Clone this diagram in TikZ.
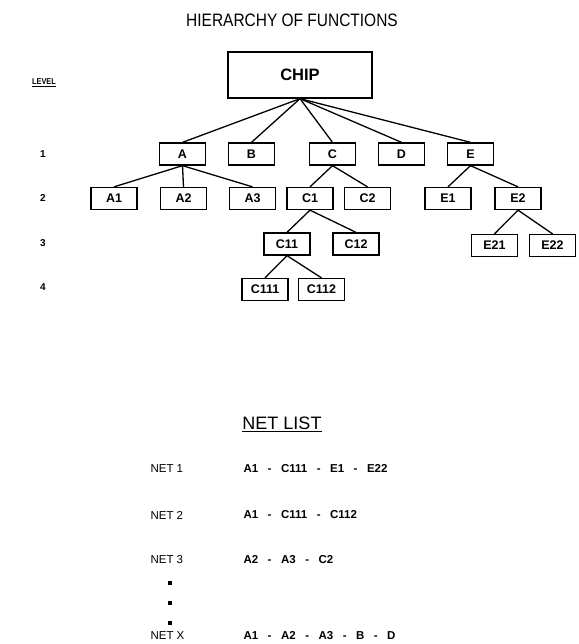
\documentclass[tikz,border=0pt]{standalone}
\usepackage{fontspec}
\setmainfont{Liberation Sans}
\newfontfamily\narrowsans[FakeStretch=0.86]{Liberation Sans}
\newcommand{\sep}{\hspace{9.5pt}-\hspace{9.5pt}}
\begin{document}
\begin{tikzpicture}[x=1pt,y=-1pt,
  box/.style={draw,line width=1.3pt,minimum width=46pt,minimum height=22pt,inner sep=0pt,font=\fontsize{12.5}{13}\selectfont\bfseries},
  link/.style={line width=1.3pt},
  lvl/.style={font=\fontsize{10}{11}\selectfont\bfseries},
  netl/.style={anchor=west,font=\fontsize{11.5}{12}\selectfont},
  netc/.style={anchor=west,font=\fontsize{11.5}{12}\selectfont\bfseries},
  dotm/.style={fill,minimum size=3.5pt,inner sep=0pt}]
\useasboundingbox (0,0) rectangle (578,644);
\node[font=\fontsize{18}{19}\selectfont\narrowsans] (title) at (292,20) {HIERARCHY OF FUNCTIONS};
\node[draw,line width=1.3pt,minimum width=144pt,minimum height=46pt,inner sep=0pt,font=\fontsize{16.5}{17}\selectfont\bfseries] (chip) at (300,75) {CHIP};
\node[font=\fontsize{8.5}{9}\selectfont\narrowsans\bfseries] (level) at (44,83) {\underline{LEVEL}};
\node[lvl] (l1) at (43,154) {1};
\node[lvl] (l2) at (43,198.5) {2};
\node[lvl] (l3) at (43,243) {3};
\node[lvl] (l4) at (43,287) {4};
% level 1
\node[box] (A) at (182.5,154) {A};
\node[box] (B) at (251.5,154) {B};
\node[box] (C) at (332.5,154) {C};
\node[box] (D) at (401.5,154) {D};
\node[box] (E) at (470.5,154) {E};
% level 2
\node[box] (A1) at (114,198.5) {A1};
\node[box] (A2) at (183.5,198.5) {A2};
\node[box] (A3) at (252.5,198.5) {A3};
\node[box] (C1) at (310,198.5) {C1};
\node[box] (C2) at (367.5,198.5) {C2};
\node[box] (E1) at (448,198.5) {E1};
\node[box] (E2) at (518,198.5) {E2};
% level 3
\node[box] (C11) at (287,244) {C11};
\node[box] (C12) at (356,244) {C12};
\node[box] (E21) at (494.5,245.5) {E21};
\node[box] (E22) at (552.5,245.5) {E22};
% level 4
\node[box] (C111) at (265,289.5) {C111};
\node[box] (C112) at (321.5,289.5) {C112};
% connectors
\foreach \c in {A,B,C,D,E} \draw[link] (chip.south) -- (\c.north);
\foreach \c in {A1,A2,A3} \draw[link] (A.south) -- (\c.north);
\foreach \c in {C1,C2} \draw[link] (C.south) -- (\c.north);
\foreach \c in {E1,E2} \draw[link] (E.south) -- (\c.north);
\foreach \c in {C11,C12} \draw[link] (C1.south) -- (\c.north);
\foreach \c in {E21,E22} \draw[link] (E2.south) -- (\c.north);
\foreach \c in {C111,C112} \draw[link] (C11.south) -- (\c.north);
% net list
\node[font=\fontsize{18}{19}\selectfont] (netlist) at (282,424) {\underline{NET LIST}};
\node[netl] (n1) at (147,469) {NET 1};
\node[netc] (c1) at (240,469) {A1\sep C111\sep E1\sep E22};
\node[netl] (n2) at (147,515) {NET 2};
\node[netc] (c2) at (240,515) {A1\sep C111\sep C112};
\node[netl] (n3) at (147,560) {NET 3};
\node[netc] (c3) at (240,560) {A2\sep A3\sep C2};
\node[dotm] (d1) at (170,583) {};
\node[dotm] (d2) at (170,603) {};
\node[dotm] (d3) at (170,623) {};
\node[netl] (nx) at (147,636) {NET X};
\node[netc] (cx) at (240,636) {A1\sep A2\sep A3\sep B\sep D};
\end{tikzpicture}
\end{document}
